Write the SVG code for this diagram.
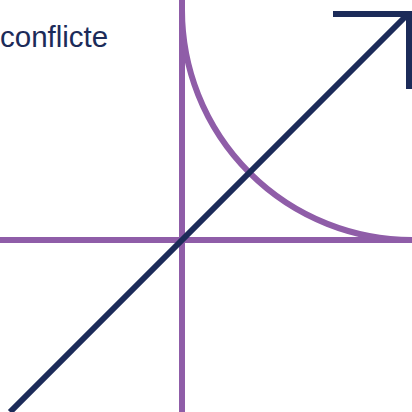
<svg xmlns="http://www.w3.org/2000/svg" width="412" height="412" viewBox="0 0 412 412">
<style>
.p{fill:none;stroke:#8f5da8;stroke-width:6}
.n{fill:none;stroke:#1c2b59;stroke-width:6}
.t{font-family:"Liberation Sans",Arial,sans-serif;font-size:29.5px;fill:#1c2b59}
</style>
<rect width="412" height="412" fill="#ffffff"/>
<g id="axes">
<line class="p" x1="182" y1="0" x2="182" y2="412"/>
<line class="p" x1="0" y1="240" x2="412" y2="240"/>
</g>
<g id="curve">
<path class="p" d="M182,0 L182,10 A230,230 0 0 0 412,240"/>
</g>
<g id="connectors">
<line class="n" x1="10" y1="412" x2="408" y2="14"/>
<polyline class="n" points="333,14 409,14 409,89"/>
</g>
<g id="label">
<text class="t" x="0" y="47">conflicte</text>
</g>
</svg>
